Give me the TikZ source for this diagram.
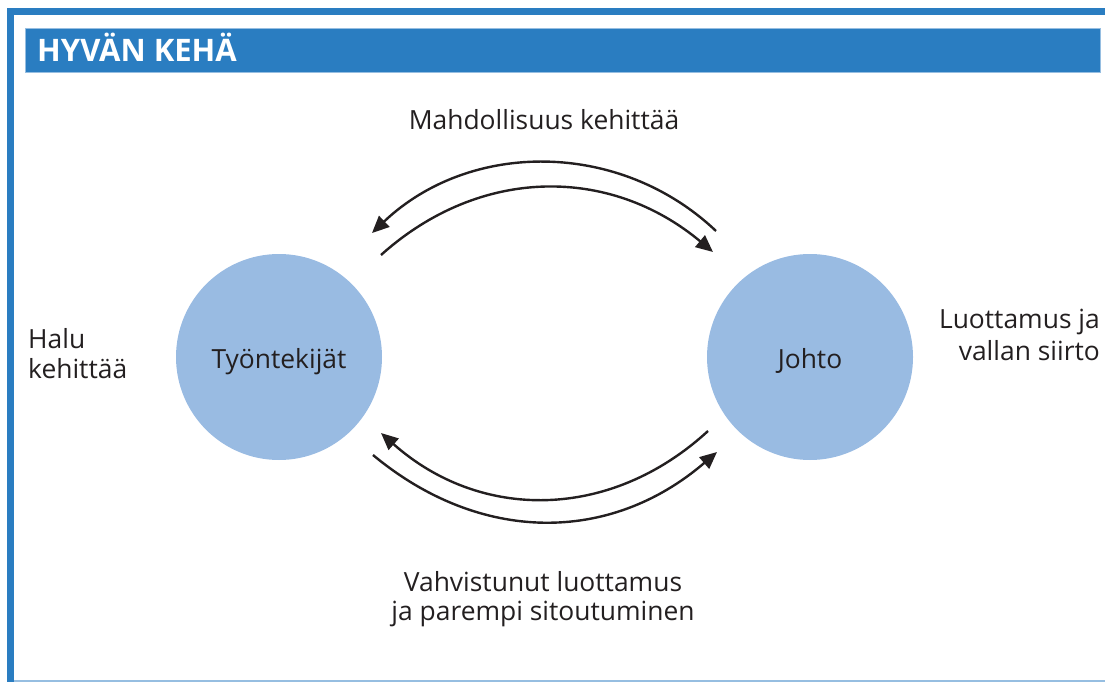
\documentclass[tikz,border=0pt]{standalone}
\usepackage{fontspec}
\setmainfont{Open Sans}
\usetikzlibrary{arrows.meta}
\definecolor{frameblue}{RGB}{42,125,193}
\definecolor{circblue}{RGB}{153,187,226}
\definecolor{txt}{RGB}{35,31,32}
\definecolor{lineblue}{RGB}{150,190,225}
\tikzset{
  lbl/.style={text=txt, font=\fontsize{26.4}{30}\selectfont, inner sep=0pt, align=center},
  circ/.style={circle, fill=circblue, minimum size=206pt, inner sep=0pt, text=txt, font=\fontsize{26.4}{30}\selectfont},
  arc/.style={line width=2.4pt, draw=txt, -{Triangle[length=17pt,width=15pt]}},
}
\begin{document}
\begin{tikzpicture}[x=1pt,y=-1pt]
\useasboundingbox (0,0) rectangle (1105,682);
% frame
\draw[frameblue, line width=7pt] (10.5,700) -- (10.5,11.5) -- (1120,11.5);
\draw[lineblue, line width=1.2pt] (14,681) -- (1105,681);
% title bar
\node[fill=frameblue, draw=lineblue, line width=0.8pt, minimum width=1075pt, minimum height=44pt, inner sep=0pt, anchor=north west] (bar) at (25,28) {};
\node[anchor=base west, inner sep=0pt, text=white, font=\fontsize{31}{31}\bfseries\selectfont] (title) at (37,62) {HYVÄN KEHÄ};
% circles
\node[circ] (tyo) at (279,357) {};
\node[circ] (johto) at (810,357) {};
\node[lbl, anchor=base] (tyot) at (279,368) {Työntekijät};
\node[lbl, anchor=base] (johtot) at (810,368) {Johto};
% labels
\node[lbl, anchor=base] (mahd) at (544,129) {Mahdollisuus kehittää};
\node[lbl, anchor=base west, align=left] (halu) at (28,348) {Halu};
\node[lbl, anchor=base west, align=left] (halu2) at (28,378) {kehittää};
\node[lbl, anchor=base east] (luot) at (1100,328) {Luottamus ja};
\node[lbl, anchor=base east] (luot2) at (1100,360) {vallan siirto};
\node[lbl, anchor=base] (vahv) at (543,591) {Vahvistunut luottamus};
\node[lbl, anchor=base] (vahv2) at (543,620) {ja parempi sitoutuminen};
% arrow endpoints
\coordinate (a1s) at (716,231); \coordinate (a1e) at (372,233);
\coordinate (a2s) at (381,255); \coordinate (a2e) at (713,252);
\coordinate (b1s) at (708,431); \coordinate (b1e) at (381,433);
\coordinate (b2s) at (373,455); \coordinate (b2e) at (717,452);
\draw[arc] (a1s) .. controls (620,140) and (470,140) .. (a1e);
\draw[arc] (a2s) .. controls (480,166) and (610,166) .. (a2e);
\draw[arc] (b1s) .. controls (610,521) and (480,521) .. (b1e);
\draw[arc] (b2s) .. controls (480,544) and (610,544) .. (b2e);
\end{tikzpicture}
\end{document}
